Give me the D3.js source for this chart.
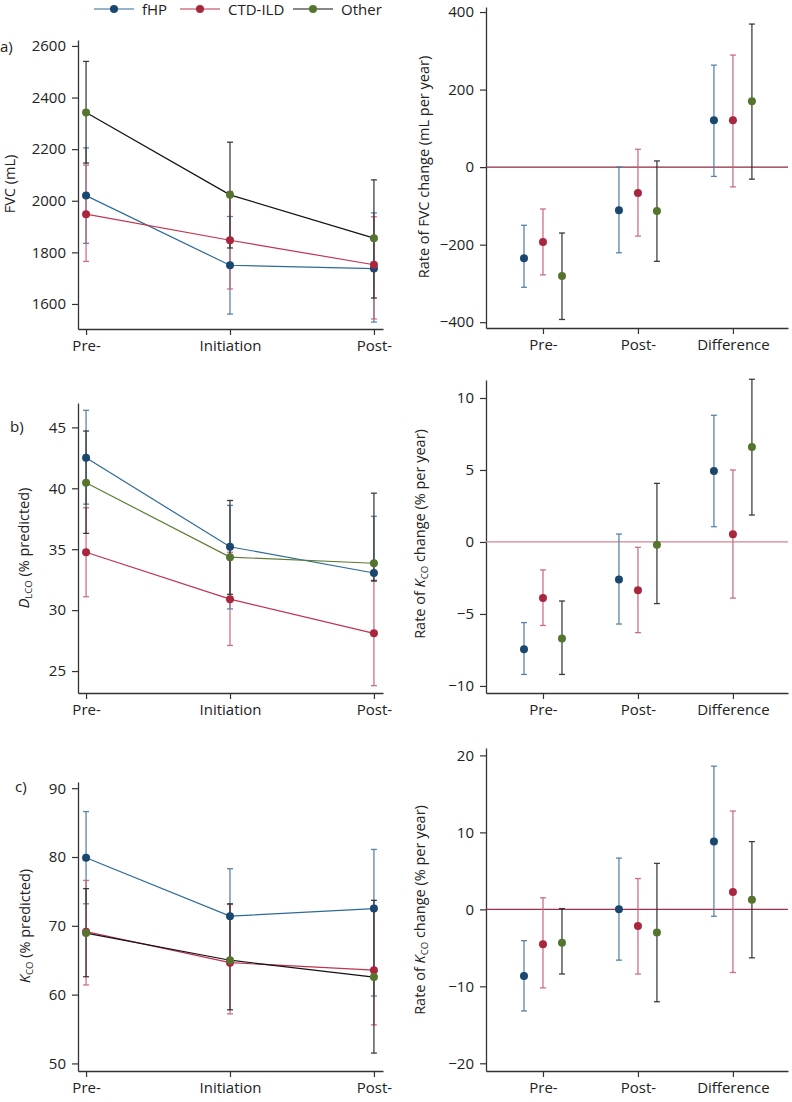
<!DOCTYPE html>
<html>
<head>
<meta charset="utf-8">
<script src="https://cdn.jsdelivr.net/npm/d3@7"></script>
<style>
  body { margin: 0; background: #fff; }
  svg { display: block; font-family: "Open Sans", sans-serif; }
</style>
</head>
<body>
<div id="chart"></div>
<script>
const groups = ["fHP", "CTD-ILD", "Other"];
const timeCats = ["Pre-", "Initiation", "Post-"];
const rateCats = ["Pre-", "Post-", "Difference"];

// a) FVC, rows = fHP, CTD-ILD, Other
const fvcMean = [[2020, 1750, 1737], [1948, 1847, 1752], [2342, 2023, 1855]];
const fvcLo   = [[1835, 1561, 1530], [1765, 1658, 1542], [2146, 1817, 1623]];
const fvcHi   = [[2205, 1939, 1953], [2138, 2036, 1938], [2540, 2227, 2081]];
const fvcRate   = [[-235, -111, 121], [-193, -67, 121], [-281, -113, 170]];
const fvcRateLo = [[-310, -221, -24], [-278, -178, -51], [-393, -243, -31]];
const fvcRateHi = [[-150, 0, 263], [-108, 46, 289], [-170, 16, 369]];

// b) DLCO
const dlcoMean = [[42.5, 35.2, 33.05], [34.75, 30.9, 28.1], [40.45, 34.35, 33.85]];
const dlcoLo   = [[38.7, 30.1, 32.4], [31.1, 27.1, 23.8], [36.3, 31.3, 32.4]];
const dlcoHi   = [[46.4, 38.6, 37.7], [38.4, 34.75, 32.45], [44.7, 39.0, 39.6]];
const dlcoRate   = [[-7.45, -2.6, 4.93], [-3.9, -3.35, 0.53], [-6.7, -0.2, 6.6]];
const dlcoRateLo = [[-9.2, -5.7, 1.06], [-5.8, -6.3, -3.9], [-9.2, -4.28, 1.87]];
const dlcoRateHi = [[-5.6, 0.55, 8.8], [-1.94, -0.37, 5.0], [-4.1, 4.07, 11.3]];

// c) KCO
const kcoMean = [[79.9, 71.4, 72.5], [69.15, 64.65, 63.55], [68.95, 65.0, 62.55]];
const kcoLo   = [[73.2, 64.5, 59.8], [61.4, 57.2, 55.6], [62.6, 57.8, 51.5]];
const kcoHi   = [[86.6, 78.3, 81.1], [76.6, 73.1, 72.9], [75.4, 73.2, 73.7]];
const kcoRate   = [[-8.66, 0.0, 8.8], [-4.55, -2.17, 2.25], [-4.34, -3.0, 1.25]];
const kcoRateLo = [[-13.2, -6.6, -0.9], [-10.2, -8.4, -8.2], [-8.4, -12.0, -6.3]];
const kcoRateHi = [[-4.07, 6.66, 18.6], [1.5, 4.0, 12.77], [0.1, 5.97, 8.8]];

const markerColors = ["#1a476f", "#a8263e", "#55752f"];
const lineColors = ["#2c6a98", "#c0334f", "#111111"];
const barColors = ["#4a78a0", "#c8617a", "#2a2a2a"];

const svg = d3.select("#chart").append("svg")
    .attr("width", 792)
    .attr("height", 1102);

// legend
const legendX = [94, 180, 293];
groups.forEach((g, i) => {
    const lg = svg.append("g").attr("transform", `translate(${legendX[i]},9)`);
    lg.append("line").attr("x1", 0).attr("x2", 40).attr("y1", 0).attr("y2", 0)
        .attr("stroke", lineColors[i]).attr("stroke-width", 1.2);
    lg.append("circle").attr("cx", 20).attr("cy", 0).attr("r", 4).attr("fill", markerColors[i]);
    lg.append("text").attr("x", 48).attr("y", 5.5).attr("font-size", 15).attr("fill", "#222").text(g);
});

function ylabel(g, x, y, parts) {
    const t = g.append("text")
        .attr("transform", `translate(${x},${y}) rotate(-90)`)
        .attr("text-anchor", "middle")
        .attr("font-size", 14.5)
        .attr("fill", "#222");
    parts.forEach(p => {
        const s = t.append("tspan").text(p.t);
        if (p.i) s.attr("font-style", "italic");
        if (p.sub) s.attr("font-size", 9.5).attr("dy", 3);
        if (p.up) s.attr("dy", -3);
    });
}

function drawPanel(p) {
    const g = svg.append("g");

    const x = d3.scaleLinear().domain(p.xDomain).range(p.xRange);
    const y = d3.scaleLinear().domain(p.yDomain).range(p.yRange);

    const yAxis = g.append("g")
        .attr("transform", `translate(${p.xRange[0]},0)`)
        .call(d3.axisLeft(y).tickValues(p.yTicks).tickFormat(d3.format("d"))
            .tickSize(6).tickSizeOuter(0).tickPadding(6));
    const xAxis = g.append("g")
        .attr("transform", `translate(0,${p.yRange[0]})`)
        .call(d3.axisBottom(x).tickValues([0, 1, 2]).tickFormat(i => p.cats[i])
            .tickSize(6).tickSizeOuter(0).tickPadding(5));

    [yAxis, xAxis].forEach(a => {
        a.select(".domain").attr("stroke", "#333").attr("stroke-width", 1.3);
        a.selectAll(".tick line").attr("stroke", "#333").attr("stroke-width", 1.2);
        a.selectAll("text").attr("font-size", 15).attr("fill", "#222")
            .attr("font-family", '"Open Sans", sans-serif');
    });

    if (p.zeroLine) {
        g.append("line")
            .attr("x1", p.xRange[0]).attr("x2", p.xRange[1])
            .attr("y1", y(0)).attr("y2", y(0))
            .attr("stroke", p.zeroLine).attr("stroke-width", 1.2);
    }

    const cx = (gi, ci) => x(ci + p.offsets[gi]);

    // error bars
    groups.forEach((grp, gi) => {
        const bg = g.append("g").attr("stroke", barColors[gi])
            .attr("stroke-width", 1.3).attr("stroke-opacity", 0.9);
        p.mean[gi].forEach((m, ci) => {
            const xx = cx(gi, ci);
            bg.append("line").attr("x1", xx).attr("x2", xx)
                .attr("y1", y(p.lo[gi][ci])).attr("y2", y(p.hi[gi][ci]));
            [p.lo[gi][ci], p.hi[gi][ci]].forEach(v => {
                bg.append("line").attr("x1", xx - 3).attr("x2", xx + 3)
                    .attr("y1", y(v)).attr("y2", y(v));
            });
        });
    });

    // connecting lines
    if (p.connect) {
        const line = d3.line().x((d, ci) => x(ci)).y(d => y(d));
        groups.forEach((grp, gi) => {
            g.append("path").datum(p.mean[gi])
                .attr("d", line)
                .attr("fill", "none")
                .attr("stroke", gi === 2 && p.otherLine ? p.otherLine : lineColors[gi])
                .attr("stroke-width", 1.2);
        });
    }

    // markers
    groups.forEach((grp, gi) => {
        g.selectAll(null).data(p.mean[gi]).enter().append("circle")
            .attr("cx", (d, ci) => cx(gi, ci))
            .attr("cy", d => y(d))
            .attr("r", 4)
            .attr("fill", markerColors[gi]);
    });

    ylabel(g, p.ylabelPos[0], p.ylabelPos[1], p.ylabel);
}

const leftX = { xDomain: [-0.056, 2.063], xRange: [78, 383], cats: timeCats, offsets: [0, 0, 0], connect: true };
const rightX = { xDomain: [-0.6, 2.58], xRange: [486, 788], cats: rateCats, offsets: [-0.2, 0, 0.2], connect: false };

const panels = [
    Object.assign({}, leftX, {
        yDomain: [1503, 2623], yRange: [329, 40], yTicks: [1600, 1800, 2000, 2200, 2400, 2600],
        mean: fvcMean, lo: fvcLo, hi: fvcHi,
        ylabel: [{ t: "FVC (mL)" }], ylabelPos: [15, 184]
    }),
    Object.assign({}, rightX, {
        yDomain: [-415, 413], yRange: [328, 7], yTicks: [-400, -200, 0, 200, 400],
        mean: fvcRate, lo: fvcRateLo, hi: fvcRateHi, zeroLine: "#8e2a3e",
        ylabel: [{ t: "Rate of FVC change (mL per year)" }], ylabelPos: [429, 167]
    }),
    Object.assign({}, leftX, {
        yDomain: [23.2, 47], yRange: [693, 403], yTicks: [25, 30, 35, 40, 45],
        mean: dlcoMean, lo: dlcoLo, hi: dlcoHi, otherLine: "#5d7d34",
        ylabel: [{ t: "D", i: true }, { t: "LCO", sub: true }, { t: " (% predicted)", up: true }], ylabelPos: [29, 548]
    }),
    Object.assign({}, rightX, {
        yDomain: [-10.49, 11.25], yRange: [693, 380], yTicks: [-10, -5, 0, 5, 10],
        mean: dlcoRate, lo: dlcoRateLo, hi: dlcoRateHi, zeroLine: "#d48593",
        ylabel: [{ t: "Rate of " }, { t: "K", i: true }, { t: "CO", sub: true }, { t: " change (% per year)", up: true }],
        ylabelPos: [425, 534]
    }),
    Object.assign({}, leftX, {
        yDomain: [48.9, 90.9], yRange: [1071, 782], yTicks: [50, 60, 70, 80, 90],
        mean: kcoMean, lo: kcoLo, hi: kcoHi,
        ylabel: [{ t: "K", i: true }, { t: "CO", sub: true }, { t: " (% predicted)", up: true }], ylabelPos: [30, 926]
    }),
    Object.assign({}, rightX, {
        yDomain: [-21, 20.96], yRange: [1071, 748], yTicks: [-20, -10, 0, 10, 20],
        mean: kcoRate, lo: kcoRateLo, hi: kcoRateHi, zeroLine: "#a0304a",
        ylabel: [{ t: "Rate of " }, { t: "K", i: true }, { t: "CO", sub: true }, { t: " change (% per year)", up: true }],
        ylabelPos: [425, 910]
    })
];

panels.forEach(drawPanel);

// panel letters
[["a)", 0, 52], ["b)", 10, 432], ["c)", 15, 792]].forEach(([t, lx, ly]) => {
    svg.append("text").attr("x", lx).attr("y", ly).attr("font-size", 15).attr("fill", "#222").text(t);
});
</script>
</body>
</html>
